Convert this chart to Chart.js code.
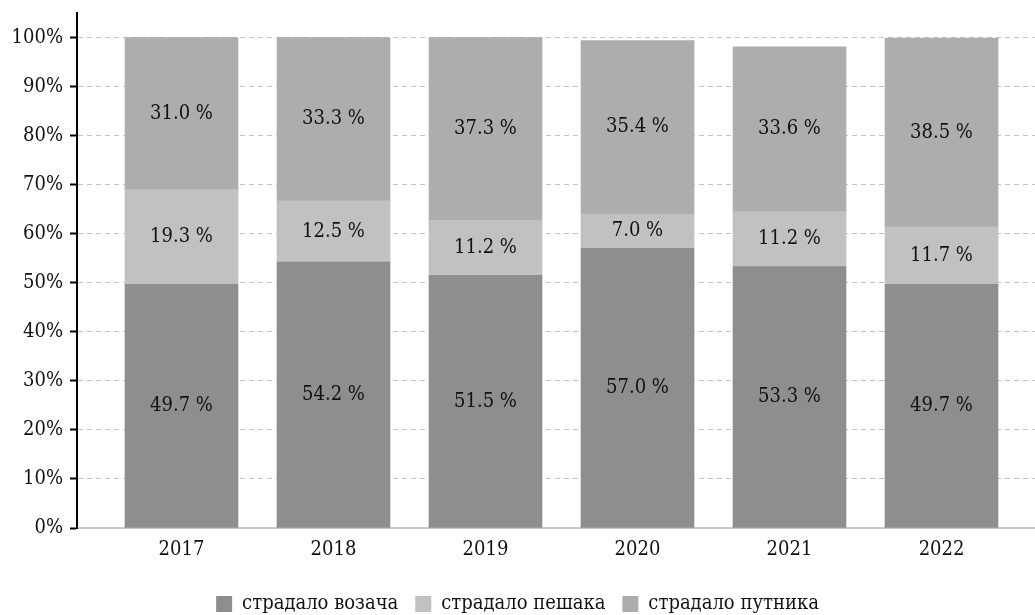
<!DOCTYPE html>
<html>
<head>
<meta charset="utf-8">
<script src="https://cdn.jsdelivr.net/npm/chart.js@4"></script>
<style>
  html, body { margin: 0; padding: 0; background: #fff; }
  #wrap { width: 1035px; height: 615px; }
</style>
</head>
<body>
<div id="wrap"><canvas id="chart" width="1035" height="615"></canvas></div>
<script>
const years = [2017, 2018, 2019, 2020, 2021, 2022];
const drivers = [49.7, 54.2, 51.5, 57.0, 53.3, 49.7];
const pedestrians = [19.3, 12.5, 11.2, 7.0, 11.2, 11.7];
const passengers = [31.0, 33.3, 37.3, 35.4, 33.6, 38.5];
const yTicks = [0, 10, 20, 30, 40, 50, 60, 70, 80, 90, 100];

const FONT = '"DejaVu Serif Condensed", "DejaVu Serif", serif';

// value labels in the middle of every segment
const barLabels = {
  id: 'barLabels',
  afterDatasetsDraw(chart) {
    const ctx = chart.ctx;
    ctx.save();
    ctx.font = '20px ' + FONT;
    ctx.fillStyle = '#111';
    ctx.textAlign = 'center';
    ctx.textBaseline = 'middle';
    chart.data.datasets.forEach((ds, i) => {
      chart.getDatasetMeta(i).data.forEach((bar, j) => {
        const p = bar.getCenterPoint();
        ctx.fillText(ds.data[j].toFixed(1) + ' %', p.x, p.y);
      });
    });
    ctx.restore();
  }
};

new Chart(document.getElementById('chart'), {
  type: 'bar',
  data: {
    labels: years,
    datasets: [
      { label: 'страдало возача', data: drivers, backgroundColor: '#8e8e8e' },
      { label: 'страдало пешака', data: pedestrians, backgroundColor: '#c1c1c1' },
      { label: 'страдало путника', data: passengers, backgroundColor: '#adadad' }
    ]
  },
  options: {
    responsive: false,
    animation: false,
    layout: { padding: { top: 13, left: 0, right: 0, bottom: -9 } },
    datasets: { bar: { barThickness: 113 } },
    scales: {
      x: {
        type: 'linear',
        stacked: true,
        offset: false,
        min: 2016.3125,
        max: 2022.615,
        afterBuildTicks: (s) => { s.ticks = years.map(v => ({ value: v })); },
        afterFit: (s) => { s.height = 49; },
        grid: { display: false },
        border: { display: true, color: '#c8c8c8', width: 2 },
        ticks: {
          color: '#111',
          padding: 2,
          font: { family: FONT, size: 20 },
          callback: (v) => String(v)
        }
      },
      y: {
        stacked: true,
        min: 0,
        max: 105,
        afterBuildTicks: (s) => { s.ticks = yTicks.map(v => ({ value: v })); },
        afterFit: (s) => { s.width = 77; s.paddingTop = 0; s.paddingBottom = 0; },
        grid: { color: '#c4c4c4', lineWidth: 1, tickColor: '#000', tickLength: 7, tickWidth: 2 },
        border: { display: true, color: '#000', width: 2, dash: [5, 4] },
        ticks: {
          color: '#111',
          padding: 7,
          font: { family: FONT, size: 20 },
          callback: (v) => v + '%'
        }
      }
    },
    plugins: {
      legend: {
        position: 'bottom',
        labels: {
          color: '#111',
          boxWidth: 16,
          boxHeight: 16,
          padding: 17,
          font: { family: FONT, size: 20 }
        }
      },
      tooltip: { enabled: false }
    }
  },
  plugins: [barLabels]
});
</script>
</body>
</html>
